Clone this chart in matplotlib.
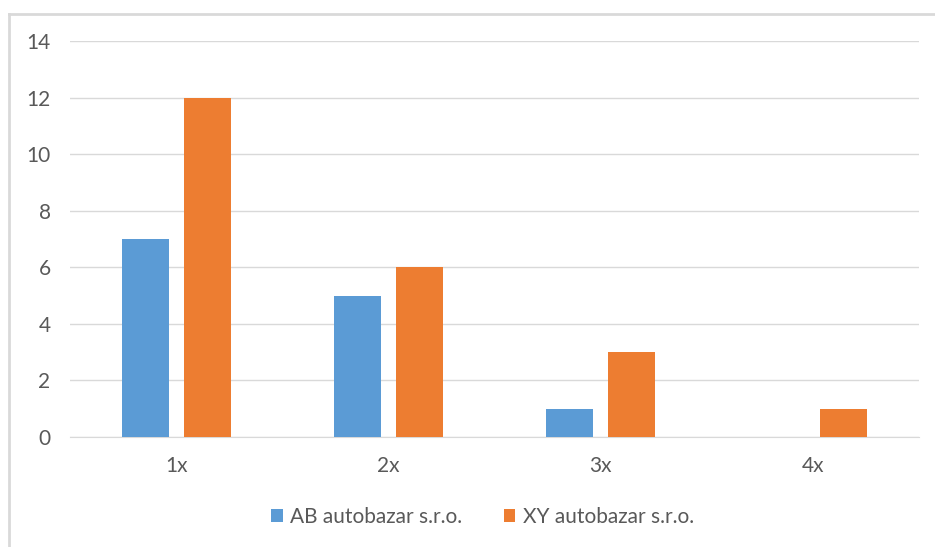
import numpy as np
import matplotlib.pyplot as plt
from matplotlib.lines import Line2D

categories = ['1x', '2x', '3x', '4x']
ab_values = [7, 5, 1, 0]
xy_values = [12, 6, 3, 1]
series_names = ['AB autobazar s.r.o.', 'XY autobazar s.r.o.']

plt.rcParams['font.family'] = ['Lato', 'DejaVu Sans']

fig = plt.figure(figsize=(9.35, 5.47), dpi=100)
ax = fig.add_axes([0.0749, 0.201, 0.908, 0.724])

x = np.arange(len(categories))
w = 0.222
ax.bar(x - 0.146, ab_values, w, color='#5B9BD5', label=series_names[0], zorder=3)
ax.bar(x + 0.146, xy_values, w, color='#ED7D31', label=series_names[1], zorder=3)

ax.set_xlim(-0.5, 3.5)
ax.set_ylim(0, 14)
ax.set_yticks(range(0, 15, 2))
ax.set_xticks(x)
ax.set_xticklabels(categories)
ax.yaxis.grid(True, color='#D9D9D9', linewidth=1, zorder=0)
for s in ['top', 'right', 'left']:
    ax.spines[s].set_visible(False)
ax.spines['bottom'].set_color('#D9D9D9')
ax.tick_params(length=0, labelsize=15, colors='#595959')
ax.tick_params(axis='x', pad=14)
ax.tick_params(axis='y', pad=14)

leg = fig.legend(loc='center', bbox_to_anchor=(0.516, 0.055), ncol=2, frameon=False,
                 fontsize=15, handlelength=0.55, handleheight=0.55, columnspacing=2.0,
                 handletextpad=0.35)
for t in leg.get_texts():
    t.set_color('#595959')

# chart frame (left and top edges)
fig.add_artist(Line2D([0.0096, 0.0096], [0, 0.975], transform=fig.transFigure,
                      color='#D9D9D9', linewidth=2))
fig.add_artist(Line2D([0.0096, 1.0], [0.975, 0.975], transform=fig.transFigure,
                      color='#D9D9D9', linewidth=2))

fig.savefig('out.png', dpi=100)
